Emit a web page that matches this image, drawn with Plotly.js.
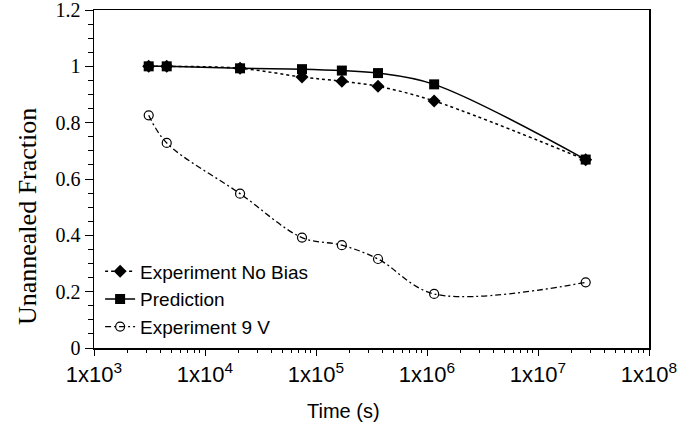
<!DOCTYPE html>
<html>
<head>
<meta charset="utf-8">
<script src="https://cdn.plot.ly/plotly-3.0.1.min.js"></script>
<style>html,body{margin:0;padding:0;background:#fff;}#chart{width:689px;height:425px;}</style>
</head>
<body>
<div id="chart"></div>
<script>
// Data
var timeS = [3110, 4520, 20700, 74800, 171000, 362000, 1160000, 26900000];
var noBias = [1.0, 1.0, 0.993, 0.962, 0.947, 0.929, 0.877, 0.668];
var prediction = [1.0, 1.0, 0.993, 0.990, 0.985, 0.976, 0.936, 0.669];
var bias9V = [0.826, 0.728, 0.548, 0.392, 0.365, 0.316, 0.192, 0.233];
var seriesNames = ["Experiment No Bias", "Prediction", "Experiment 9 V"];
var xTickVals = [1e3, 1e4, 1e5, 1e6, 1e7, 1e8];
var xTickText = ["1x10<sup>3</sup>", "1x10<sup>4</sup>", "1x10<sup>5</sup>", "1x10<sup>6</sup>", "1x10<sup>7</sup>", "1x10<sup>8</sup>"];
var yTickVals = [0, 0.2, 0.4, 0.6, 0.8, 1, 1.2];
var yTickText = ["0", "0.2", "0.4", "0.6", "0.8", "1", "1.2"];
var xTitle = "Time (s)";
var yTitle = "Unannealed Fraction";

var minorX = [];
for (var e = 3; e < 8; e++) { for (var m = 2; m <= 9; m++) { minorX.push(m * Math.pow(10, e)); } }

var traces = [
  {x: timeS, y: noBias, name: seriesNames[0], type: 'scatter', mode: 'lines+markers',
   line: {color: '#000', width: 1.5, dash: 'dot', shape: 'spline', smoothing: 1},
   marker: {symbol: 'diamond', size: 10, color: '#000'}},
  {x: timeS, y: prediction, name: seriesNames[1], type: 'scatter', mode: 'lines+markers',
   line: {color: '#000', width: 1.5, shape: 'spline', smoothing: 1},
   marker: {symbol: 'square', size: 10, color: '#000'}},
  {x: timeS, y: bias9V, name: seriesNames[2], type: 'scatter', mode: 'lines+markers',
   line: {color: '#000', width: 1.3, dash: '6px,3px,2px,3px', shape: 'spline', smoothing: 1},
   marker: {symbol: 'circle-open', size: 9, color: '#000', line: {width: 1.2, color: '#000'}}}
];

var layout = {
  width: 689, height: 425,
  margin: {l: 94, r: 40, t: 10, b: 77},
  paper_bgcolor: '#fff', plot_bgcolor: '#fff',
  showlegend: true,
  legend: {x: 0.011, y: 0.283, xanchor: 'left', yanchor: 'top', bgcolor: 'rgba(0,0,0,0)',
           font: {family: 'Liberation Sans, Arial, sans-serif', size: 19, color: '#000'},
           itemwidth: 30, tracegroupgap: 0},
  xaxis: {type: 'log', range: [3, 8], tickmode: 'array', tickvals: xTickVals, ticktext: xTickText,
          showline: true, linecolor: '#000', linewidth: 1.5, mirror: true, showgrid: false, zeroline: false,
          ticks: 'outside', ticklen: 6, tickwidth: 1, tickcolor: '#000', ticklabeloverflow: 'allow',
          minor: {tickmode: 'array', tickvals: minorX, ticks: 'outside', ticklen: 3, tickwidth: 1, tickcolor: '#000', showgrid: false},
          tickfont: {family: 'Liberation Sans, Arial, sans-serif', size: 22, color: '#000'}},
  yaxis: {range: [0, 1.2], tickmode: 'array', tickvals: yTickVals, ticktext: yTickText,
          showline: true, linecolor: '#000', linewidth: 1.5, mirror: true, showgrid: false, zeroline: false,
          ticks: 'outside', ticklen: 8, tickwidth: 1, tickcolor: '#000', ticklabeloverflow: 'allow',
          minor: {tickmode: 'linear', tick0: 0, dtick: 0.05, ticks: 'outside', ticklen: 5, tickwidth: 1, tickcolor: '#000', showgrid: false},
          tickfont: {family: 'Liberation Serif, Times New Roman, serif', size: 20, color: '#000'}},
  annotations: [
    {text: xTitle, xref: 'paper', yref: 'paper', x: 0.449, y: -0.186, xanchor: 'center', yanchor: 'middle',
     showarrow: false, font: {family: 'Liberation Sans, Arial, sans-serif', size: 20, color: '#000'}},
    {text: yTitle, xref: 'paper', yref: 'paper', x: -0.121, y: 0.39, xanchor: 'center', yanchor: 'middle',
     textangle: -90, showarrow: false, font: {family: 'Liberation Serif, Times New Roman, serif', size: 26, color: '#000'}}
  ]
};

Plotly.newPlot('chart', traces, layout, {displayModeBar: false, staticPlot: true});
</script>
</body>
</html>
